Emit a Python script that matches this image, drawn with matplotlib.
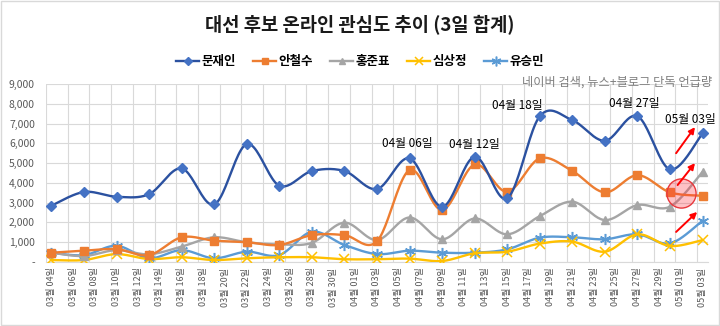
import numpy as np
import pandas as pd
import matplotlib
matplotlib.use("Agg")
import matplotlib.pyplot as plt
import matplotlib.dates as mdates
from matplotlib.lines import Line2D
from matplotlib.patches import Rectangle

plt.rcParams['font.family'] = ['Noto Sans CJK KR', 'DejaVu Sans']

# ---------------- data ----------------
data_dates = ['03-04', '03-07', '03-10', '03-13', '03-16', '03-19', '03-22', '03-25', '03-28', '03-31',
              '04-03', '04-06', '04-09', '04-12', '04-15', '04-18', '04-21', '04-24', '04-27', '04-30',
              '05-03']
moon = [2850, 3540, 3300, 3430, 4730, 2910, 5960, 3860, 4600, 4600,
        3690, 5240, 2790, 5320, 3220, 7370, 7170, 6130, 7370, 4680, 6500]
ahn = [470, 570, 650, 350, 1250, 1080, 1000, 860, 1360, 1360,
       1050, 4650, 2630, 4930, 3550, 5240, 4600, 3520, 4390, 3520, 3350]
hong = [470, 300, 600, 390, 780, 1250, 1000, 890, 970, 1990,
        1110, 2250, 1150, 2200, 1400, 2320, 3050, 2120, 2880, 2800, 4560]
sim = [100, 100, 400, 150, 240, 100, 190, 240, 240, 140,
       140, 170, 50, 440, 520, 930, 1030, 520, 1400, 810, 1110]
yoo = [470, 350, 820, 190, 600, 190, 520, 350, 1530, 860,
       400, 570, 470, 470, 640, 1230, 1250, 1150, 1400, 940, 2090]

names = ['문재인', '안철수', '홍준표', '심상정', '유승민']
series = [moon, ahn, hong, sim, yoo]

tick_dates = ['03-04', '03-06', '03-08', '03-10', '03-12', '03-14', '03-16', '03-18', '03-20', '03-22',
              '03-24', '03-26', '03-28', '03-30', '04-01', '04-03', '04-05', '04-07', '04-09', '04-11',
              '04-13', '04-15', '04-17', '04-19', '04-21', '04-23', '04-25', '04-27', '04-29', '05-01',
              '05-03']
tick_labels = [f"{d[:2]}월 {d[3:]}일" for d in tick_dates]

yticks = [0, 1000, 2000, 3000, 4000, 5000, 6000, 7000, 8000, 9000]
ytick_labels = ['-', '1,000', '2,000', '3,000', '4,000', '5,000', '6,000', '7,000', '8,000', '9,000']

callout_dates = ['04-06', '04-12', '04-18', '04-27', '05-03']
callout_offsets = [(-2, 15), (0, 12), (-22, 11), (-3, 13), (-12, 14)]

# ---------------- style ----------------
line_colors = ['#2B51A0', '#ED7D31', '#A5A5A5', '#FFC000', '#5B9BD5']
marker_colors = ['#4472C4', '#ED7D31', '#A5A5A5', '#FFC000', '#5B9BD5']
markers = ['D', 's', '^', 'x', (6, 2, 0)]
msizes = [5, 6, 6, 7, 8]
stroke_marker = [False, False, False, True, True]


def to_num(dlist):
    return mdates.date2num(pd.to_datetime(['2017-' + d for d in dlist]))


def smooth(x, y, n=24):
    """Excel-style smoothed line (Catmull-Rom / Bezier) through the points."""
    x = np.asarray(x, float)
    y = np.asarray(y, float)
    P = np.column_stack([x, y])
    Pext = np.vstack([P[0], P, P[-1]])
    out = []
    t = np.linspace(0, 1, n)[:, None]
    for i in range(len(P) - 1):
        p0, p1, p2, p3 = Pext[i], Pext[i + 1], Pext[i + 2], Pext[i + 3]
        c1 = p1 + (p2 - p0) / 6.0
        c2 = p2 - (p3 - p1) / 6.0
        seg = ((1 - t) ** 3) * p1 + 3 * ((1 - t) ** 2) * t * c1 + 3 * (1 - t) * t ** 2 * c2 + t ** 3 * p2
        out.append(seg if i == 0 else seg[1:])
    out = np.vstack(out)
    return out[:, 0], out[:, 1]


xd = to_num(data_dates)
xt = to_num(tick_dates)

fig = plt.figure(figsize=(7.2, 3.26), dpi=100)
ax = fig.add_axes([46 / 720, 1 - 262 / 326, (708 - 46) / 720, (262 - 84) / 326])

# draw order: later series behind earlier ones
for i in range(len(series) - 1, -1, -1):
    z = 3 + (len(series) - i) * 0.1
    sx, sy = smooth(xd, series[i])
    ax.plot(sx, sy, color=line_colors[i], lw=1.7, zorder=z, solid_capstyle='round')
    if stroke_marker[i]:
        ax.plot(xd, series[i], ls='none', marker=markers[i], ms=msizes[i], mew=1.1,
                color=marker_colors[i], zorder=z + 0.05)
    else:
        ax.plot(xd, series[i], ls='none', marker=markers[i], ms=msizes[i],
                mfc=marker_colors[i], mec=marker_colors[i], zorder=z + 0.05)

ax.set_ylim(0, 9000)
ax.set_xlim(xt[0] - 0.5, xt[-1] + 0.5)
ax.set_yticks(yticks)
ax.set_yticklabels(ytick_labels, fontsize=7.5, color='#595959')
ax.set_xticks(xt)
ax.set_xticklabels(tick_labels, rotation=90, fontsize=6.5, color='#595959')
ax.set_xticks(xt - 0.5, minor=True)
ax.tick_params(axis='both', which='both', length=0)
ax.tick_params(axis='y', pad=8)
ax.tick_params(axis='x', pad=4)
ax.grid(axis='y', color='#D9D9D9', lw=0.8, zorder=0)
ax.grid(axis='x', which='minor', color='#D9D9D9', lw=0.8, zorder=0)
for s in ['left', 'right', 'top']:
    ax.spines[s].set_visible(False)
ax.spines['bottom'].set_color('#D9D9D9')
ax.spines['bottom'].set_linewidth(0.8)

# callouts
for d, (dx, dy) in zip(callout_dates, callout_offsets):
    idx = data_dates.index(d)
    ax.annotate(f"{d[:2]}월 {d[3:]}일", xy=(xd[idx], moon[idx]), xytext=(dx, dy),
                textcoords='offset pixels', ha='center', va='center', fontsize=8.5, color='black', zorder=10)

# red arrows and circle (days after 03-04, value)
arrow_starts = [(57.56, 5500), (57.7, 3890), (57.56, 1520)]
arrow_ends = [(59.3, 6820), (59.3, 5000), (59.5, 2530)]
base = xd[0]
for (a0, y0), (a1, y1) in zip(arrow_starts, arrow_ends):
    ax.annotate('', xy=(base + a1, y1), xytext=(base + a0, y0),
                arrowprops=dict(arrowstyle='-|>', color='#FF0000', lw=1.4, mutation_scale=9,
                                shrinkA=0, shrinkB=0), zorder=12)
ax.plot([base + 58.0], [3480], marker='o', ms=21, mfc=(1, 0.2, 0.25, 0.3), mec='#E8383D', mew=1.0,
        zorder=11)

# note text
fig.text(712 / 720, 1 - 82 / 326, '네이버 검색, 뉴스+블로그 단독 언급량', ha='right', va='center',
         fontsize=8.8, color='#7F7F7F')

# title
fig.text(0.5, 1 - 25 / 326, '대선 후보 온라인 관심도 추이 (3일 합계)', ha='center', va='center',
         fontsize=13.5, fontweight='bold', color='#1a1a1a')

# legend
handles = []
for i in range(len(series)):
    if stroke_marker[i]:
        h = Line2D([], [], color=line_colors[i], lw=1.7, marker=markers[i], ms=msizes[i] - 1, mew=1.1,
                   mec=marker_colors[i])
    else:
        h = Line2D([], [], color=line_colors[i], lw=1.7, marker=markers[i], ms=msizes[i] - 1,
                   mfc=marker_colors[i], mec=marker_colors[i])
    handles.append(h)
leg = fig.legend(handles, names, loc='center', bbox_to_anchor=(0.5, 1 - 62 / 326), ncol=5,
                 frameon=False, handlelength=1.8, handletextpad=0.2, columnspacing=1.4,
                 prop={'weight': 'bold', 'size': 9})

# chart border
fig.patches.append(Rectangle((0.001, 0.002), 0.997, 0.995, transform=fig.transFigure, fill=False,
                             edgecolor='#D9D9D9', lw=1.0))

fig.savefig('out.png', dpi=100)
